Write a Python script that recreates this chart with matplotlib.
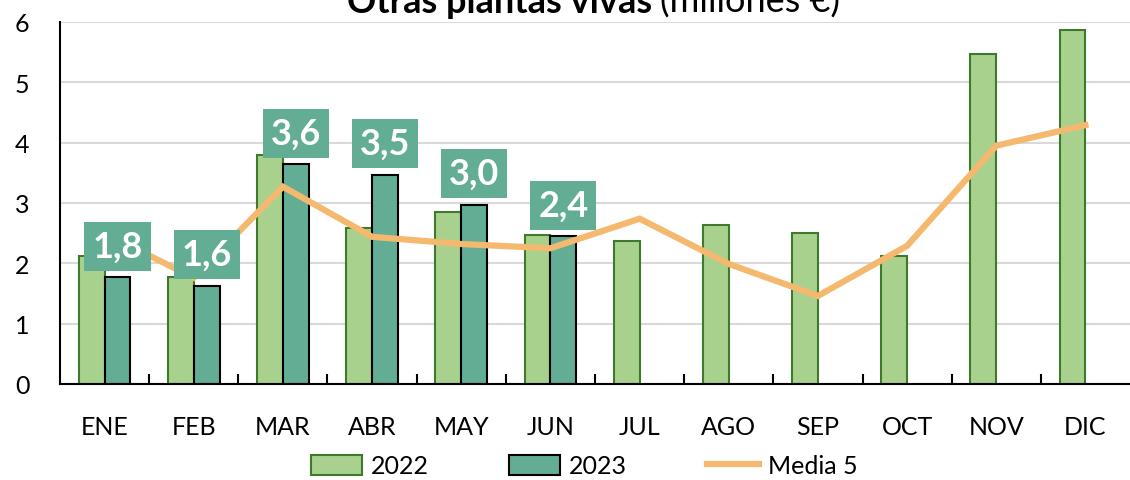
"""Otras plantas vivas: monthly values 2022/2023 with 5-year mean line."""
import numpy as np
import matplotlib as mpl
mpl.use('Agg')
import matplotlib.pyplot as plt

months = ['ENE', 'FEB', 'MAR', 'ABR', 'MAY', 'JUN',
          'JUL', 'AGO', 'SEP', 'OCT', 'NOV', 'DIC']
v2022 = [2.12, 1.77, 3.80, 2.59, 2.85, 2.47, 2.37, 2.64, 2.50, 2.12, 5.47, 5.87]
v2023 = [1.77, 1.63, 3.64, 3.47, 2.97, 2.45]
lab2023 = ['1,8', '1,6', '3,6', '3,5', '3,0', '2,4']
media5 = [2.50, 1.76, 3.27, 2.44, 2.32, 2.25, 2.74, 1.99, 1.46, 2.29, 3.95, 4.29]
yticks = [0, 1, 2, 3, 4, 5, 6]

c22 = '#a9d18e'
e22 = '#3f7a2a'
c23 = '#62ad93'
cline = '#f4b96e'

plt.rcParams['font.family'] = ['Lato', 'DejaVu Sans']

fig = plt.figure(figsize=(11.3, 4.81), dpi=100)
ax = fig.add_axes([60 / 1130, 1 - 385 / 481, 1 - 60 / 1130, (385 - 23) / 481])

x = np.arange(len(months))
w = 0.29
b22 = ax.bar(x - w / 2, v2022, w, color=c22, edgecolor=e22, linewidth=1.5,
             label='2022', zorder=2)
x23 = x[:len(v2023)] + w / 2
b23 = ax.bar(x23, v2023, w, color=c23, edgecolor='black', linewidth=1.5,
             label='2023', zorder=2)
ln, = ax.plot(x, media5, color=cline, linewidth=4.5, solid_joinstyle='miter',
              label='Media 5', zorder=3)

for xi, v, s in zip(x23, v2023, lab2023):
    ax.annotate(s, xy=(xi, v), xytext=(0, 10.5), textcoords='offset points',
                ha='center', va='bottom', fontsize=26, fontweight='bold',
                color='white', zorder=5,
                bbox=dict(boxstyle='square,pad=0.22', fc=c23, ec='none'))

ax.set_xlim(-0.5, len(months) - 0.5)
ax.set_ylim(0, 6)
ax.set_yticks(yticks)
ax.set_xticks(x)
ax.set_xticklabels(months)
ax.set_xticks(x[:-1] + 0.5, minor=True)
ax.tick_params(axis='x', which='major', length=0, pad=22, labelsize=18)
ax.tick_params(axis='x', which='minor', direction='in', length=7, width=1.5)
ax.tick_params(axis='y', length=0, pad=22, labelsize=18)
ax.grid(axis='y', color='#d9d9d9', linewidth=1.5, zorder=0)
ax.set_axisbelow(True)
for s in ['top', 'right']:
    ax.spines[s].set_visible(False)
ax.spines['left'].set_linewidth(1.5)
ax.spines['bottom'].set_linewidth(1.5)
ax.spines['bottom'].set_zorder(4)

fig.legend([b22, b23, ln], ['2022', '2023', 'Media 5'], loc='center',
           bbox_to_anchor=(584 / 1130, 1 - 467 / 481),
           ncol=3, frameon=False, fontsize=18, handlelength=2.05,
           handleheight=0.9, handletextpad=0.36, columnspacing=3.2,
           borderaxespad=0, borderpad=0)

fig.text(652 / 1130, 1 - 13 / 481, 'Otras plantas vivas', ha='right',
         va='baseline', fontsize=26, fontweight='bold')
fig.text(660 / 1130, 1 - 13 / 481, '(millones €)', ha='left',
         va='baseline', fontsize=26)

fig.savefig('out.png', dpi=100)
plt.close()
